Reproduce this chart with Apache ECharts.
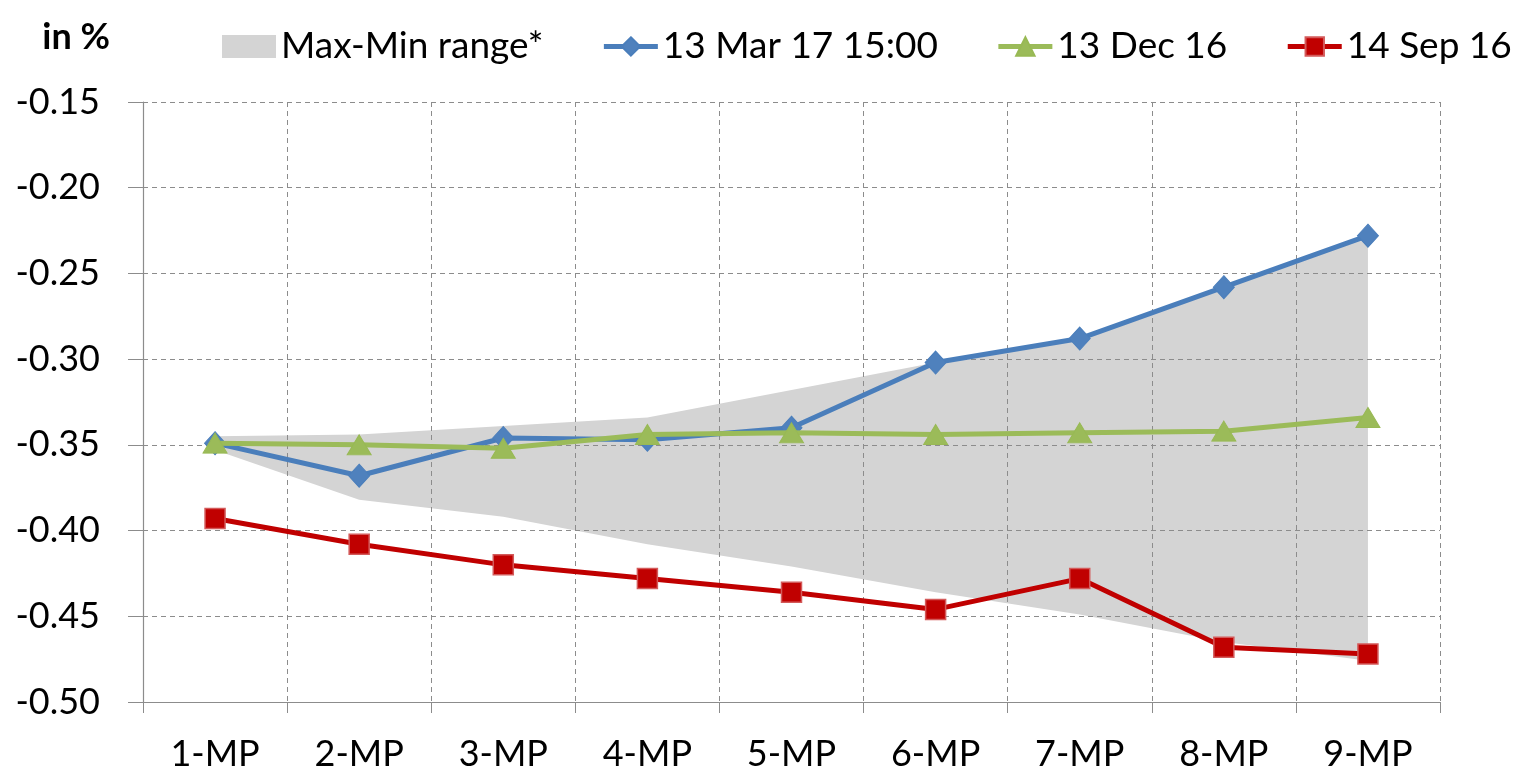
<!DOCTYPE html>
<html>
<head>
<meta charset="utf-8">
<title>Money-market forward curves</title>
<script src="https://cdn.jsdelivr.net/npm/echarts@6/dist/echarts.min.js"></script>
<style>
  html, body { margin: 0; padding: 0; background: #ffffff; }
  #chart { width: 1524px; height: 773px; }
</style>
</head>
<body>
<div id="chart"></div>
<script>
// Maturity buckets on the x axis
const categories = ['1-MP', '2-MP', '3-MP', '4-MP', '5-MP', '6-MP', '7-MP', '8-MP', '9-MP'];

// Y axis scale (in %)
const yMin = -0.5;
const yMax = -0.15;
const yStep = 0.05;

// Historical max-min band
const rangeMax = [-0.345, -0.344, -0.339, -0.334, -0.318, -0.302, -0.288, -0.258, -0.228];
const rangeMin = [-0.353, -0.382, -0.392, -0.408, -0.421, -0.436, -0.449, -0.465, -0.476];

// Curves
const mar17 = [-0.349, -0.368, -0.346, -0.347, -0.340, -0.302, -0.288, -0.258, -0.228];
const dec16 = [-0.349, -0.350, -0.352, -0.344, -0.343, -0.344, -0.343, -0.342, -0.334];
const sep16 = [-0.393, -0.408, -0.420, -0.428, -0.436, -0.446, -0.428, -0.468, -0.472];

const bandName = 'Max-Min range*';
const names = ['13 Mar 17 15:00', '13 Dec 16', '14 Sep 16'];

const FONT = 'Lato, "Open Sans", sans-serif';
const gridColor = '#8c8c8c';
const bandColor = '#d4d4d4';

const chart = echarts.init(document.getElementById('chart'), null, { renderer: 'canvas' });

const option = {
  animation: false,
  backgroundColor: '#ffffff',
  textStyle: { fontFamily: FONT, color: '#000000' },
  legend: {
    left: 217,
    top: 23,
    itemWidth: 54,
    itemHeight: 23,
    itemGap: 58,
    textStyle: { fontFamily: FONT, fontSize: 37, color: '#000000', padding: [0, 0, 0, 0] },
    lineStyle: { width: 5 },
    data: [
      { name: bandName, icon: 'rect', itemStyle: { color: bandColor } },
      names[0], names[1], names[2]
    ]
  },
  grid: { left: 143, right: 84, top: 102, bottom: 71, containLabel: false },
  xAxis: {
    type: 'category',
    data: categories,
    boundaryGap: true,
    z: 3,
    axisLine: { show: true, lineStyle: { color: gridColor, width: 1.2 } },
    axisTick: { show: true, length: 11, lineStyle: { color: gridColor, width: 1 } },
    axisLabel: { margin: 34, fontFamily: FONT, fontSize: 36, color: '#000000' },
    splitLine: { show: true, lineStyle: { color: gridColor, width: 1, type: [5, 4] } }
  },
  yAxis: {
    type: 'value',
    min: yMin,
    max: yMax,
    interval: yStep,
    z: 3,
    name: 'in %',
    nameLocation: 'end',
    nameGap: 47,
    nameTextStyle: {
      fontFamily: FONT, fontSize: 36, fontWeight: 'bold', color: '#000000',
      align: 'right', padding: [0, 33, 0, 0]
    },
    axisLine: { show: true, lineStyle: { color: gridColor, width: 1.2 } },
    axisTick: { show: true, length: 15, lineStyle: { color: gridColor, width: 1 } },
    axisLabel: {
      margin: 43, fontFamily: FONT, fontSize: 36, color: '#000000',
      formatter: v => v.toFixed(2)
    },
    splitLine: { show: true, lineStyle: { color: gridColor, width: 1, type: [5, 4] } }
  },
  series: [
    {
      // Shaded band between the historical maximum and minimum
      name: bandName,
      type: 'custom',
      z: 1,
      silent: true,
      itemStyle: { color: bandColor },
      data: categories.map((c, i) => [i, rangeMin[i], rangeMax[i]]),
      encode: { x: 0, y: [1, 2] },
      renderItem: function (params, api) {
        if (params.dataIndex !== 0) return null;
        const upper = rangeMax.map((v, i) => api.coord([i, v]));
        const lower = rangeMin.map((v, i) => api.coord([i, v])).reverse();
        return {
          type: 'polygon',
          shape: { points: upper.concat(lower) },
          style: { fill: bandColor }
        };
      }
    },
    {
      name: names[0],
      type: 'line',
      z: 5,
      data: mar17,
      symbol: 'diamond',
      symbolSize: [21, 23],
      lineStyle: { color: '#4a7ebb', width: 5 },
      itemStyle: { color: '#4f81bd', borderColor: '#4a7ebb', borderWidth: 1 }
    },
    {
      name: names[1],
      type: 'line',
      z: 6,
      data: dec16,
      symbol: 'triangle',
      symbolSize: [24, 20],
      lineStyle: { color: '#9bbb59', width: 5 },
      itemStyle: { color: '#9bbb59', borderColor: '#98b954', borderWidth: 1 }
    },
    {
      name: names[2],
      type: 'line',
      z: 5,
      data: sep16,
      symbol: 'rect',
      symbolSize: 20,
      lineStyle: { color: '#c00000', width: 5 },
      itemStyle: { color: '#c00000', borderColor: '#d35a5a', borderWidth: 1.5 }
    }
  ]
};

chart.setOption(option);
</script>
</body>
</html>
